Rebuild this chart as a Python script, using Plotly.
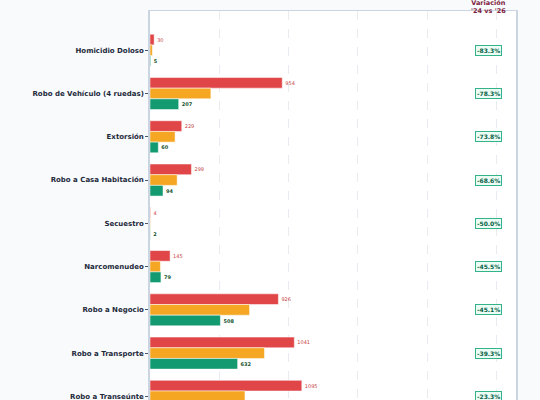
import plotly.graph_objects as go

# Delitos y conteos por año
delitos = [
    "Homicidio Doloso",
    "Robo de Vehículo (4 ruedas)",
    "Extorsión",
    "Robo a Casa Habitación",
    "Secuestro",
    "Narcomenudeo",
    "Robo a Negocio",
    "Robo a Transporte",
    "Robo a Transeúnte",
]
v2024 = [30, 954, 229, 299, 4, 145, 926, 1041, 1095]
v2025 = [17, 439, 181, 196, 3, 75, 718, 826, 685]
v2026 = [5, 207, 60, 94, 2, 79, 508, 632, 840]
variacion = ["-83.3%", "-78.3%", "-73.8%", "-68.6%", "-50.0%",
             "-45.5%", "-45.1%", "-39.3%", "-23.3%"]

ROJO = "#E04547"
NARANJA = "#F5A623"
VERDE = "#139A70"

fig = go.Figure()

fig.add_trace(go.Bar(
    y=delitos, x=v2024, name="2024", orientation="h",
    marker=dict(color=ROJO, line=dict(color="rgba(255,255,255,0.5)", width=1)),
    text=v2024, textposition="outside", cliponaxis=False,
    textfont=dict(size=5, color="#C8433F"),
))
fig.add_trace(go.Bar(
    y=delitos, x=v2025, name="2025", orientation="h",
    marker=dict(color=NARANJA, line=dict(color="rgba(255,255,255,0.5)", width=1)),
))
fig.add_trace(go.Bar(
    y=delitos, x=v2026, name="2026", orientation="h",
    marker=dict(color=VERDE, line=dict(color="rgba(255,255,255,0.5)", width=1)),
    text=["<b>%d</b>" % v for v in v2026], textposition="outside", cliponaxis=False,
    textfont=dict(size=5, color="#14532D"),
))

# Badges de variación
for d, v in zip(delitos, variacion):
    fig.add_annotation(
        x=0.925, xref="paper", xanchor="center", y=d, yref="y",
        text="<b>%s</b>" % v, showarrow=False,
        font=dict(size=6, color="#065F46"),
        bgcolor="#ECFDF5", bordercolor="#34B38A", borderwidth=1, borderpad=1,
    )

fig.add_annotation(
    x=0.925, xref="paper", xanchor="center", y=1.009, yref="paper", yanchor="middle",
    text="<b>Variación<br>'24 vs '26</b>", showarrow=False,
    font=dict(size=6.5, color="#7F1D3D"),
)

fig.update_layout(
    width=540, height=478,
    barmode="group", bargap=0.26, bargroupgap=0,
    paper_bgcolor="#F8FAFC", plot_bgcolor="white",
    font=dict(family="DejaVu Sans", color="#1E293B"),
    margin=dict(l=150, r=24, t=11, b=60, autoexpand=False),
    showlegend=False,
)
fig.update_xaxes(
    range=[0, 2640], dtick=500, showgrid=True, gridcolor="#E8ECF1", griddash="dash",
    zeroline=False, showline=True, linecolor="#CBD5E1", mirror=True,
    tickfont=dict(size=7),
)
fig.update_yaxes(
    range=[8.5, -0.907], showline=True, linecolor="#CBD5E1", linewidth=1.5, mirror=True,
    ticks="outside", ticklen=3, tickcolor="#475569",
    tickfont=dict(size=7, color="#1E293B"),
    tickprefix="<b>", ticksuffix="</b>",
)

fig.write_html("out.html", config={"displayModeBar": False},
               post_script="document.body.style.margin='0';")
